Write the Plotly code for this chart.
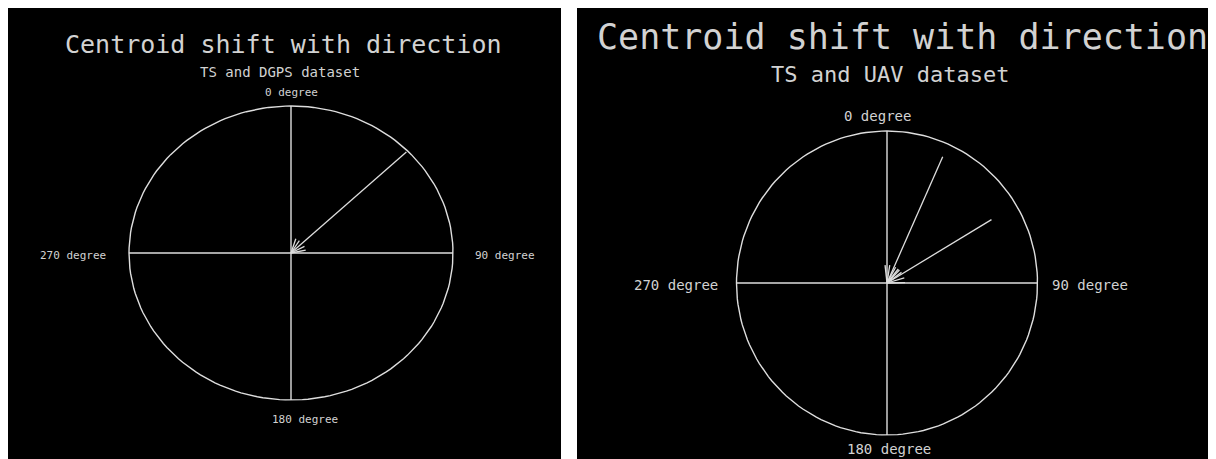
import numpy as np
import plotly.graph_objects as go

# ---------------- data ----------------
main_title = "Centroid shift with direction"
subtitles = ["TS and DGPS dataset", "TS and UAV dataset"]
direction_labels = ["0 degree", "90 degree", "180 degree", "270 degree"]
# shift direction (degrees clockwise from north) and normalised magnitude
dgps_angle_deg = [46]
dgps_magnitude = [0.99]
uav_angle_deg = [24, 59]
uav_magnitude = [0.91, 0.81]

# ---------------- layout geometry ----------------
W, H = 1216, 459
OFF = 8  # the page body margin places the figure at (8, 8) in the window

def fx(px):  # window pixel -> paper x
    return (px - OFF) / W

def fy(py):  # window pixel -> paper y
    return 1 - (py - OFF) / H

panels = [
    dict(x0=8, x1=561, cx=291, cy=253, rx=162, ry=147,
         angles=dgps_angle_deg, mags=dgps_magnitude, sub=subtitles[0],
         title_pos=(283, 45), title_size=25, sub_pos=(280, 72), sub_size=14,
         lab_size=11, lab0=(291, 93), lab90=(473, 255), lab180=(305, 419), lab270=(108, 255),
         head_len=15),
    dict(x0=577, x1=OFF + W, cx=887, cy=283, rx=150.5, ry=152,
         angles=uav_angle_deg, mags=uav_magnitude, sub=subtitles[1],
         title_pos=(902, 37), title_size=35, sub_pos=(890, 75), sub_size=22,
         lab_size=14, lab0=(877, 116), lab90=(1050, 285), lab180=(889, 449), lab270=(720, 285),
         head_len=18),
]

FONT = "DejaVu Sans Mono"
INK = "#dedede"
TXT = "#d2d2d2"

fig = go.Figure()
annotations = []
for i, p in enumerate(panels):
    xa = "x" if i == 0 else "x2"
    ya = "y" if i == 0 else "y2"
    sx, sy = p["rx"], p["ry"]
    # circle
    th = np.radians(np.arange(0, 361, 2))
    fig.add_trace(go.Scatter(x=np.sin(th), y=np.cos(th), mode="lines",
                             line=dict(color=INK, width=1.4), xaxis=xa, yaxis=ya,
                             hoverinfo="skip", showlegend=False))
    # cross lines
    fig.add_trace(go.Scatter(x=[-1, 1, None, 0, 0], y=[0, 0, None, -1, 1], mode="lines",
                             line=dict(color=INK, width=1.4), xaxis=xa, yaxis=ya,
                             hoverinfo="skip", showlegend=False))
    # arrows: from circle point towards centre
    ax_, ay_ = [], []
    for a, m in zip(p["angles"], p["mags"]):
        t = np.radians(a)
        tx, ty = m * np.sin(t), m * np.cos(t)
        ax_ += [tx, 0, None]
        ay_ += [ty, 0, None]
        # arrow head barbs in pixel space
        ux, uy = tx * sx, ty * sy
        L = np.hypot(ux, uy)
        ux, uy = ux / L, uy / L
        for d in (-30, -15, 15, 30):
            r = np.radians(d)
            bx = ux * np.cos(r) - uy * np.sin(r)
            by = ux * np.sin(r) + uy * np.cos(r)
            ax_ += [0, bx * p["head_len"] / sx, None]
            ay_ += [0, by * p["head_len"] / sy, None]
    fig.add_trace(go.Scatter(x=ax_, y=ay_, mode="lines",
                             line=dict(color=INK, width=1.3), xaxis=xa, yaxis=ya,
                             hoverinfo="skip", showlegend=False))
    # axes ranges so that centre/radius fall at the right pixels
    xr = [(p["x0"] - p["cx"]) / sx, (p["x1"] - p["cx"]) / sx]
    yr = [(p["cy"] - (OFF + H)) / sy, (p["cy"] - OFF) / sy]
    dom = [fx(p["x0"]), fx(p["x1"])]
    axis_common = dict(visible=False, showgrid=False, zeroline=False, fixedrange=True)
    fig.update_layout(**{
        ("xaxis" if i == 0 else "xaxis2"): dict(range=xr, domain=dom, anchor=ya, **axis_common),
        ("yaxis" if i == 0 else "yaxis2"): dict(range=yr, domain=[0, 1], anchor=xa, **axis_common),
    })

    def add_text(txt, pos, size, xanchor="center"):
        annotations.append(dict(text=txt, x=fx(pos[0]), y=fy(pos[1]), xref="paper", yref="paper",
                                xanchor=xanchor, yanchor="middle", showarrow=False,
                                font=dict(family=FONT, size=size, color=TXT)))
    add_text(main_title, p["title_pos"], p["title_size"])
    add_text(p["sub"], p["sub_pos"], p["sub_size"])
    add_text(direction_labels[0], p["lab0"], p["lab_size"])
    add_text(direction_labels[1], p["lab90"], p["lab_size"], "left")
    add_text(direction_labels[2], p["lab180"], p["lab_size"])
    add_text(direction_labels[3], p["lab270"], p["lab_size"], "right")

fig.update_layout(width=W, height=H, margin=dict(l=0, r=0, t=0, b=0, pad=0),
                  paper_bgcolor="white", plot_bgcolor="black",
                  annotations=annotations, showlegend=False)

fig.write_html("out.html")
